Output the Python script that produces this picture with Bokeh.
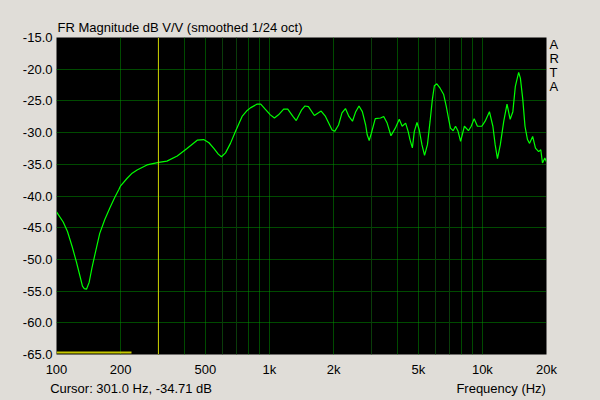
from bokeh.plotting import figure
from bokeh.models import (FixedTicker, Grid, Span, CustomJSTickFormatter, PrintfTickFormatter,
                          LinearAxis, LogAxis)
from bokeh.embed import file_html
from bokeh.resources import INLINE

# ---- data ----
freq_hz = [100, 107.5, 112.6, 118.5, 124, 128.6, 132.4, 135, 138.3, 142.4, 147, 152.5, 159.6,
           168.6, 178, 187.9, 196, 200, 214.7, 226.6, 239, 266, 302, 330, 369, 410, 458, 491,
           520, 548, 575, 595, 622, 656, 693, 744, 786, 814, 876, 910, 955, 1010, 1055, 1103,
           1166, 1219, 1289, 1336, 1417, 1469, 1524, 1625, 1749, 1833, 1969, 2025, 2111, 2191,
           2275, 2361, 2454, 2542, 2633, 2730, 2830, 2878, 2940, 3010, 3140, 3325, 3440, 3570,
           3720, 3900, 4070, 4200, 4360, 4480, 4570, 4690, 4790, 4930, 5050, 5200, 5350, 5520,
           5680, 5820, 5950, 6110, 6330, 6580, 6770, 6950, 7080, 7290, 7480, 7670, 7900, 8230,
           8600, 8860, 9150, 9480, 9940, 10300, 10790, 11200, 11480, 11770, 12140, 12600, 13050,
           13500, 13900, 14280, 14800, 15080, 15480, 15850, 16280, 16650, 17220, 17750, 18370,
           18800, 19150, 19640, 20000]
mag_db = [-42.5, -44.1, -45.6, -48.0, -50.4, -52.5, -54.2, -54.6, -54.7, -53.6, -51.2, -48.8, -45.9,
          -43.7, -41.9, -40.2, -39.0, -38.4, -37.2, -36.4, -35.9, -35.1, -34.7, -34.5, -33.7, -32.5, -31.2, -31.1,
          -31.6, -32.5, -33.4, -33.8, -33.2, -31.7, -29.8, -27.45, -26.5, -26.1, -25.5, -25.5, -26.3, -27.2, -27.7, -27.2,
          -26.3, -26.3, -27.45, -28.1, -26.4, -25.8, -25.9, -27.3, -26.6, -27.45, -29.6, -29.8, -28.8, -26.9,
          -26.2, -27.45, -28.2, -26.7, -25.8, -26.7, -28.8, -30.35, -31.25, -30.1, -27.8, -27.7, -27.45, -28.5,
          -30.5, -29.3, -27.9, -29.0, -28.5, -29.8, -31.1, -32.4, -29.8, -28.4, -29.55, -31.9, -33.6, -31.9,
          -28.2, -24.8, -22.6, -22.3, -23.0, -24.0, -25.9, -27.95, -29.3, -29.7, -29.0, -29.7, -31.4, -29.0,
          -29.7, -29.0, -27.8, -29.0, -29.0, -28.2, -26.7, -29.0, -31.9, -34.1, -31.9, -28.2, -25.5,
          -27.9, -26.7, -22.7, -20.5, -21.4, -24.8, -29.0, -31.1, -31.7, -30.6, -32.45, -33.0,
          -32.7, -34.8, -34.0, -34.6]

cursor_hz = 301.0
cursor_db = -34.71
marker_hz = [100, 225]
marker_db = [-64.7, -64.7]

y_ticks = [-65, -60, -55, -50, -45, -40, -35, -30, -25, -20, -15]
y_grid = [-60, -55, -50, -45, -40, -35, -30, -25, -20]
x_label_ticks = [100, 200, 500, 1000, 2000, 5000, 10000, 20000]
grid_bright_hz = [200, 400, 500, 800, 900, 1000, 2000, 4000, 5000, 8000, 9000, 10000]
grid_dark_hz = [300, 600, 700, 3000, 6000, 7000]

title_text = "FR Magnitude dB V/V (smoothed 1/24 oct)"
cursor_text = "Cursor: %.1f Hz, %.2f dB" % (cursor_hz, cursor_db)
xlabel_text = "Frequency (Hz)"
# footer texts and the positions (Hz) of their centres on the bottom text row
footer_texts = [cursor_text, xlabel_text]
footer_pos_hz = [224.0, 12250.0]
# stacked brand letters on the right (top to bottom) and their row positions (dB)
brand_letters = ["A", "R", "T", "A"]
brand_pos_db = [-16.1, -18.3, -20.55, -22.8]

BG = "#e0ddd8"
FONT = "Liberation Sans"
FS = "13px"
TXT = "#000000"

p = figure(width=600, height=400, x_axis_type="log", x_range=(100, 20000), y_range=(-65, -15),
           output_backend="svg", toolbar_location=None,
           min_border_left=56, min_border_right=54, min_border_top=37, min_border_bottom=46)
p.background_fill_color = "black"
p.border_fill_color = BG
p.outline_line_color = None

# title
p.title.text = title_text
p.title.align = "left"
p.title.offset = 1
p.title.standoff = 5
p.title.text_font = FONT
p.title.text_font_size = FS
p.title.text_font_style = "normal"
p.title.text_color = TXT


def style_axis(ax, standoff):
    ax.axis_line_color = None
    ax.major_tick_line_color = None
    ax.minor_tick_line_color = None
    ax.major_tick_out = 0
    ax.major_tick_in = 0
    ax.minor_tick_out = 0
    ax.minor_tick_in = 0
    ax.major_label_text_font = FONT
    ax.major_label_text_font_size = FS
    ax.major_label_text_color = TXT
    ax.major_label_standoff = standoff


# main axes
p.xaxis.ticker = FixedTicker(ticks=x_label_ticks)
p.xaxis.formatter = CustomJSTickFormatter(code="return tick >= 1000 ? (tick/1000) + 'k' : String(tick);")
p.yaxis.ticker = FixedTicker(ticks=y_ticks)
p.yaxis.formatter = PrintfTickFormatter(format="%.1f")
style_axis(p.xaxis[0], 7)
style_axis(p.yaxis[0], 4)

# footer row (cursor read-out and axis title)
foot = LogAxis(ticker=FixedTicker(ticks=footer_pos_hz),
               formatter=CustomJSTickFormatter(args=dict(t=footer_texts), code="return t[index];"))
style_axis(foot, 1)
p.add_layout(foot, "below")

# brand letters on the right
brand = LinearAxis(ticker=FixedTicker(ticks=sorted(brand_pos_db)),
                   formatter=CustomJSTickFormatter(args=dict(t=brand_letters[::-1]), code="return t[index];"))
style_axis(brand, 3)
p.add_layout(brand, "right")

# grids
p.xgrid.ticker = FixedTicker(ticks=grid_bright_hz)
p.xgrid.grid_line_color = "#009400"
p.xgrid.grid_line_dash = "1 1"
p.ygrid.ticker = FixedTicker(ticks=y_grid)
p.ygrid.grid_line_color = "#009400"
p.ygrid.grid_line_dash = "1 1"
p.add_layout(Grid(dimension=0, ticker=FixedTicker(ticks=grid_dark_hz), grid_line_color="#0a3c0a"))

# cursor + marker
p.add_layout(Span(location=cursor_hz, dimension="height", line_color="#d0d000", line_width=1))
p.line(marker_hz, marker_db, line_color="#c8c800", line_width=2)

# response curve
p.line(freq_hz, mag_db, line_color="#00ff00", line_width=1.2)

template = """
{% block postamble %}
<style>body { background: #e0ddd8; }</style>
{% endblock %}
"""
open("out.html", "w").write(file_html(p, INLINE, template=template))
